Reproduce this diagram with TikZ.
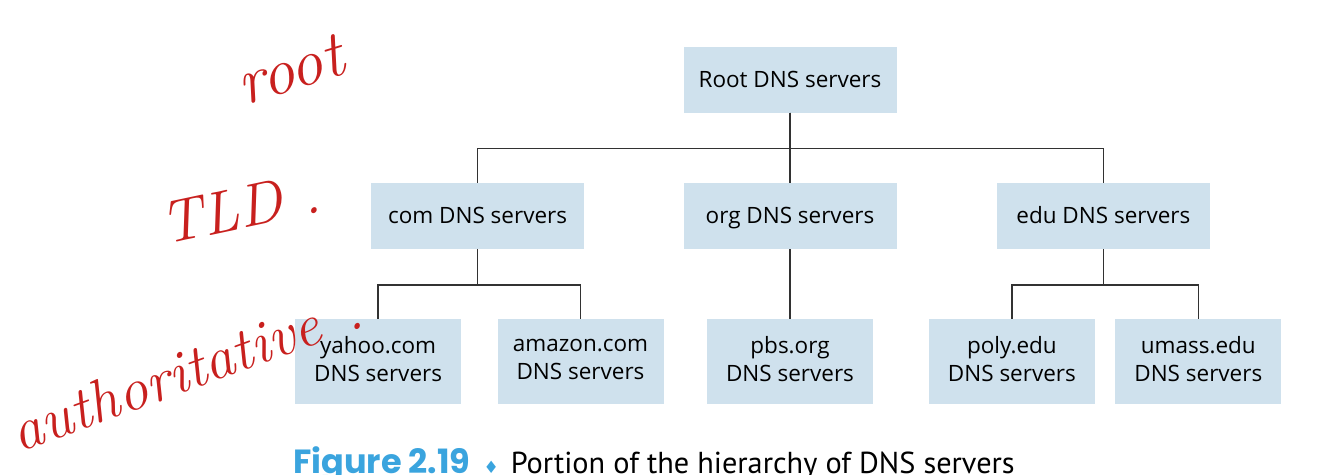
\documentclass[tikz,border=0pt]{standalone}
\usepackage{fontspec}
\newfontfamily\boxfont{Open Sans}
\newfontfamily\capfont{PT Sans}
\newfontfamily\figfont{Poppins}
\newfontfamily\symfont{DejaVu Sans}
\usepackage{tikz}
\usetikzlibrary{positioning}
\definecolor{boxblue}{RGB}{207,225,237}
\definecolor{inkred}{RGB}{200,32,30}
\definecolor{figblue}{RGB}{58,164,222}
\definecolor{linegray}{RGB}{50,50,50}
\newcommand\boxstrut{\rule[-5pt]{0pt}{25pt}}

\begin{document}
\begin{tikzpicture}[
    node distance=70pt,
    server/.style={rectangle, fill=boxblue, minimum width=213pt, minimum height=66pt, inner sep=0pt,
        font=\boxfont\fontsize{22.5}{28}\selectfont, execute at begin node=\boxstrut, execute at end node=\boxstrut},
    leaf/.style={server, minimum width=166pt, minimum height=85pt, align=center},
    link/.style={draw=linegray, line width=1.4pt},
    note/.style={inkred, font=\itshape\fontsize{60}{60}\selectfont}
]
    \useasboundingbox (0pt,0pt) rectangle (1320pt,-474pt);

    \node[server] (root) at (790pt,-79.5pt) {Root DNS servers};
    \node[server, below=of root] (org) {org DNS servers};
    \node[server, left=99pt of org] (com) {com DNS servers};
    \node[server, right=100pt of org] (edu) {edu DNS servers};

    \node[leaf, below=of com, xshift=-99.5pt] (yahoo) {yahoo.com\\DNS servers};
    \node[leaf, right=36pt of yahoo] (amazon) {amazon.com\\DNS servers};
    \node[leaf, below=of org] (pbs) {pbs.org\\DNS servers};
    \node[leaf, below=of edu, xshift=-91.5pt] (poly) {poly.edu\\DNS servers};
    \node[leaf, right=20pt of poly] (umass) {umass.edu\\DNS servers};

    \draw[link] (root) -- (org);
    \draw[link] (root.south) -- ++(0,-36pt) -| (com.north);
    \draw[link] (root.south) -- ++(0,-36pt) -| (edu.north);
    \draw[link] (com.south) -- ++(0,-36pt) -| (yahoo.north);
    \draw[link] (com.south) -- ++(0,-36pt) -| (amazon.north);
    \draw[link] (org) -- (pbs);
    \draw[link] (edu.south) -- ++(0,-36pt) -| (poly.north);
    \draw[link] (edu.south) -- ++(0,-36pt) -| (umass.north);

    % handwritten notes
    \node[note, rotate=17, font=\itshape\fontsize{66}{66}\selectfont] (rootnote) at (290pt,-70pt) {root};
    \node[note, rotate=12] (tldnote) at (240pt,-208pt) {TLD\,\,.};
    \node[note, rotate=20] (authnote) at (186pt,-370pt) {authoritative\hspace{26pt}.};

    \node[anchor=base west, inner sep=0pt, font=\capfont\fontsize{30.3}{30}\selectfont] (caption) at (293pt,-473pt)
        {{\figfont\bfseries\fontsize{33.5}{33}\selectfont\color{figblue}Figure 2.19}\hspace{13pt}{\symfont\fontsize{17}{17}\selectfont\color{figblue}♦}\hspace{12pt}Portion of the hierarchy of DNS servers};
\end{tikzpicture}
\end{document}
